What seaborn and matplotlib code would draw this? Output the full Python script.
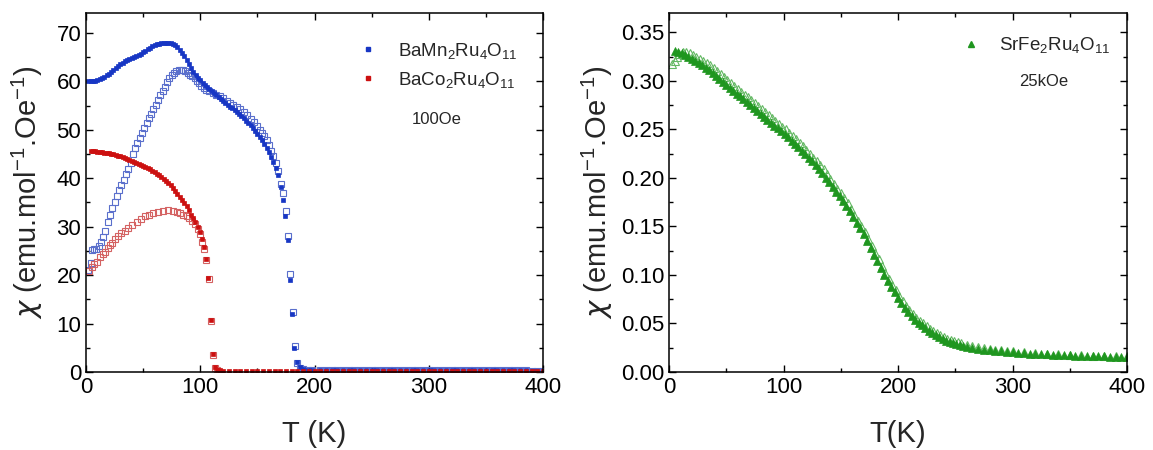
import seaborn as sns
import matplotlib
matplotlib.use("Agg")
from matplotlib import pyplot as plt
from matplotlib.lines import Line2D
from matplotlib.ticker import MultipleLocator, FormatStrFormatter

# ---- left panel: BaMn2Ru4O11 / BaCo2Ru4O11, 100 Oe ----
T_tail = [205, 210, 215, 220, 225, 230, 235, 240, 245, 250, 255, 260, 265, 270, 275, 280,
          285, 290, 295, 300, 305, 310, 315, 320, 325, 330, 335, 340, 345, 350, 355, 360,
          365, 370, 375, 380, 385, 390, 395, 400]
mn_tail = [0.42, 0.41, 0.40, 0.40, 0.39, 0.39, 0.38, 0.38, 0.37, 0.37, 0.37, 0.36, 0.36, 0.36,
           0.35, 0.35, 0.35, 0.35, 0.34, 0.34, 0.34, 0.34, 0.33, 0.33, 0.33, 0.33, 0.33, 0.32,
           0.32, 0.32, 0.32, 0.32, 0.31, 0.31, 0.31, 0.31, 0.31, 0.30, 0.30, 0.30]
co_tail = [0.24, 0.24, 0.23, 0.23, 0.23, 0.22, 0.22, 0.22, 0.22, 0.21, 0.21, 0.21, 0.21, 0.21,
           0.20, 0.20, 0.20, 0.20, 0.20, 0.20, 0.19, 0.19, 0.19, 0.19, 0.19, 0.19, 0.19, 0.18,
           0.18, 0.18, 0.18, 0.18, 0.18, 0.18, 0.18, 0.17, 0.17, 0.17, 0.17, 0.17]

T_mn_fc = [2, 4, 6, 8, 10, 12, 14, 16, 18, 20, 22, 24, 26, 28, 30, 32, 34, 36, 38, 40, 42, 44,
           46, 48, 50, 52, 54, 56, 58, 60, 62, 64, 66, 68, 70, 72, 74, 76, 78, 80, 82, 84, 86,
           88, 90, 92, 94, 96, 98, 100, 102, 104, 106, 108, 110, 112, 114, 116, 118, 120, 122,
           124, 126, 128, 130, 132, 134, 136, 138, 140, 142, 144, 146, 148, 150, 152, 154, 156,
           158, 160, 162, 164, 166, 168, 170.5, 172.5, 174.5, 176.5, 178.5, 180.5, 182.3, 184.5,
           187, 190, 194, 198]
chi_mn_fc = [60.0, 60.0, 60.0, 60.1, 60.2, 60.4, 60.6, 60.9, 61.2, 61.5, 61.9, 62.3, 62.7, 63.1,
             63.5, 63.8, 64.1, 64.4, 64.6, 64.8, 65.0, 65.2, 65.4, 65.7, 66.0, 66.3, 66.6, 66.9,
             67.2, 67.4, 67.6, 67.8, 67.9, 68.0, 68.0, 68.0, 67.9, 67.7, 67.4, 67.0, 66.5, 65.9,
             65.2, 64.4, 63.6, 62.8, 62.0, 61.3, 60.7, 60.2, 59.7, 59.2, 58.8, 58.4, 58.0, 57.6,
             57.2, 56.8, 56.4, 56.0, 55.6, 55.2, 54.8, 54.4, 54.0, 53.6, 53.2, 52.8, 52.4, 51.9,
             51.4, 50.9, 50.3, 49.7, 49.1, 48.5, 47.8, 47.1, 46.3, 45.4, 44.4, 43.3, 42.1, 40.6,
             38.2, 35.6, 32.2, 27.3, 19.0, 12.0, 5.0, 2.1, 1.0, 0.7, 0.5, 0.45]

T_mn_zfc = [2, 4, 5, 7, 9, 11, 13, 15, 17, 19, 21, 23, 25, 27, 29, 31, 33, 35, 37, 39, 41, 43,
            45, 47, 49, 51, 53, 55, 57, 59, 61, 63, 65, 67, 69, 71, 73, 75, 77, 79, 81, 83, 85,
            87, 89, 91, 93, 95, 97, 99, 101, 103, 105, 108, 111, 114, 117, 120, 123, 126, 129,
            132, 135, 138, 141, 144, 147, 150, 152, 154, 156, 158, 160, 162, 164, 166, 168, 170.4,
            172.7, 174.8, 176.8, 178.6, 181, 182.5, 184.5, 187, 190, 194, 198]
chi_mn_zfc = [21.0, 22.5, 25.2, 25.3, 25.4, 26.0, 26.8, 27.8, 29.2, 30.9, 32.4, 33.8, 35.0, 36.3,
              37.6, 38.7, 39.6, 40.9, 41.8, 43.2, 45.0, 46.2, 47.3, 48.4, 49.4, 50.3, 51.4, 52.4,
              53.3, 54.2, 55.2, 56.1, 57.1, 58.0, 58.9, 59.8, 60.6, 61.3, 61.8, 62.2, 62.4, 62.4,
              62.3, 62.1, 61.8, 61.4, 61.0, 60.6, 60.1, 59.6, 59.0, 58.6, 58.3, 57.9, 57.5, 57.2,
              56.9, 56.5, 56.0, 55.6, 55.1, 54.6, 54.2, 53.6, 53.0, 52.3, 51.6, 50.7, 50.0, 49.4,
              48.7, 47.9, 46.8, 45.7, 44.5, 43.2, 41.5, 38.8, 36.9, 33.2, 28.1, 20.2, 12.3, 5.3,
              1.8, 0.9, 0.6, 0.5, 0.45]

T_co_fc = [4, 6, 8, 10, 12, 14, 16, 18, 20, 22, 24, 26, 28, 30, 32, 34, 36, 38, 40, 42, 44, 46,
           48, 50, 52, 54, 56, 58, 60, 62, 64, 66, 68, 70, 72, 74, 76, 78, 80, 82, 84, 86, 88,
           90, 92, 93.8, 95.6, 97.6, 99.6, 101.6, 103.4, 105.2, 107.2, 109.1, 111.1, 112.9, 115,
           117, 120, 125, 130, 135, 140, 145, 150, 155, 160, 165, 170, 175, 180, 185, 190, 195, 200]
chi_co_fc = [45.6, 45.6, 45.6, 45.5, 45.5, 45.4, 45.3, 45.2, 45.1, 45.0, 44.9, 44.8, 44.6, 44.5,
             44.3, 44.2, 44.0, 43.8, 43.6, 43.4, 43.2, 43.0, 42.8, 42.6, 42.4, 42.1, 41.8, 41.5,
             41.2, 40.9, 40.6, 40.2, 39.8, 39.4, 39.0, 38.5, 38.0, 37.4, 36.8, 36.2, 35.6, 34.9,
             34.2, 33.4, 32.5, 31.8, 31.0, 30.0, 29.0, 27.5, 25.7, 23.3, 19.5, 10.7, 3.7, 1.0,
             0.5, 0.35, 0.3, 0.3, 0.3, 0.28, 0.28, 0.27, 0.27, 0.26, 0.26, 0.26, 0.25, 0.25, 0.25,
             0.25, 0.25, 0.24, 0.24]

T_co_zfc = [2.6, 5, 7, 9.4, 12.3, 14.5, 16.6, 19, 21, 23, 25.4, 28, 31, 34, 37, 40, 44.3, 48,
            51.6, 55, 59, 63, 67.7, 72, 76.4, 80, 82.3, 85, 88, 90, 92.5, 95.4, 97.7, 99.8, 101.5,
            103.3, 105, 107.3, 109, 111, 113, 115]
chi_co_zfc = [20.9, 21.6, 22.2, 22.8, 23.7, 24.3, 24.8, 25.6, 26.2, 26.7, 27.4, 28.0, 28.6, 29.2,
              29.8, 30.4, 31.0, 31.6, 32.1, 32.5, 32.9, 33.1, 33.3, 33.4, 33.3, 33.1, 32.9, 32.5,
              32.1, 31.7, 31.2, 30.6, 29.5, 28.5, 26.9, 25.4, 23.1, 19.2, 10.5, 3.5, 0.9, 0.4]

# ---- right panel: SrFe2Ru4O11, 25 kOe ----
T_fe_fc = [5, 8, 11, 14, 17, 20, 23, 26, 29, 32, 35, 38, 41, 44, 47, 50, 53, 56, 59, 62, 65, 68,
           71, 74, 77, 80, 83, 86, 89, 92, 95, 98, 101, 104, 107, 110, 113, 116, 119, 122, 125,
           128, 131, 134, 137, 140, 143, 146, 149, 152, 155, 158, 161, 164, 167, 170, 173, 176,
           179, 182, 185, 188, 191, 194, 197, 200, 203, 206, 209, 212, 215, 218, 221, 224, 227,
           230, 233, 236, 239, 242, 245, 248, 251, 254, 257, 260, 265, 270, 275, 280, 285, 290,
           295, 300, 305, 310, 315, 320, 325, 330, 335, 340, 345, 350, 355, 360, 365, 370, 375,
           380, 385, 390, 395, 400]
chi_fe_fc = [0.331, 0.330, 0.329, 0.327, 0.325, 0.323, 0.321, 0.318, 0.316, 0.313, 0.311, 0.308,
             0.305, 0.302, 0.299, 0.296, 0.293, 0.290, 0.287, 0.284, 0.281, 0.278, 0.275, 0.272,
             0.269, 0.266, 0.263, 0.260, 0.257, 0.254, 0.251, 0.248, 0.245, 0.242, 0.238, 0.235,
             0.232, 0.228, 0.225, 0.221, 0.217, 0.213, 0.209, 0.205, 0.200, 0.196, 0.191, 0.186,
             0.181, 0.176, 0.171, 0.166, 0.160, 0.154, 0.148, 0.142, 0.135, 0.128, 0.121, 0.114,
             0.107, 0.100, 0.094, 0.088, 0.082, 0.076, 0.071, 0.066, 0.062, 0.058, 0.054, 0.051,
             0.048, 0.045, 0.042, 0.040, 0.038, 0.036, 0.034, 0.032, 0.031, 0.030, 0.029, 0.028,
             0.027, 0.026, 0.025, 0.024, 0.023, 0.0225, 0.022, 0.0215, 0.021, 0.0205, 0.020,
             0.0195, 0.019, 0.0187, 0.0184, 0.0181, 0.0178, 0.0176, 0.0174, 0.0172, 0.0170,
             0.0168, 0.0166, 0.0164, 0.0162, 0.0160, 0.0159, 0.0158, 0.0157, 0.0156]

T_fe_zfc = [3, 5, 7, 9, 12, 15, 18, 21, 24, 27, 30, 33, 36, 39, 42, 45, 48, 51, 54, 57, 60, 63,
            66, 69, 72, 75, 78, 81, 84, 87, 90, 93, 96, 99, 102, 105, 108, 111, 114, 117, 120,
            123, 126, 129, 132, 135, 138, 141, 144, 147, 150, 153, 156, 159, 162, 165, 168, 171,
            174, 177, 180, 183, 186, 189, 192, 195, 198, 201, 204, 207, 210, 213, 216, 219, 222,
            225, 228, 231, 234, 237, 240, 243, 246, 249, 252, 255, 260, 265, 270, 275, 280, 285,
            290, 295, 300, 310, 320, 330, 340, 350, 360, 370, 380, 390, 400]
chi_fe_zfc = [0.317, 0.321, 0.325, 0.328, 0.330, 0.330, 0.329, 0.327, 0.325, 0.323, 0.321, 0.318,
              0.316, 0.313, 0.310, 0.307, 0.304, 0.301, 0.298, 0.295, 0.292, 0.289, 0.286, 0.283,
              0.280, 0.277, 0.274, 0.271, 0.268, 0.265, 0.262, 0.259, 0.256, 0.253, 0.250, 0.246,
              0.243, 0.240, 0.236, 0.233, 0.229, 0.225, 0.221, 0.217, 0.213, 0.209, 0.204, 0.199,
              0.194, 0.189, 0.184, 0.179, 0.174, 0.168, 0.162, 0.156, 0.150, 0.144, 0.137, 0.130,
              0.123, 0.116, 0.109, 0.102, 0.096, 0.090, 0.084, 0.078, 0.073, 0.068, 0.064, 0.060,
              0.056, 0.053, 0.050, 0.047, 0.044, 0.042, 0.040, 0.038, 0.036, 0.034, 0.033, 0.032,
              0.031, 0.030, 0.028, 0.027, 0.026, 0.025, 0.024, 0.023, 0.0225, 0.022, 0.0215,
              0.0205, 0.020, 0.019, 0.0185, 0.018, 0.0175, 0.017, 0.0168, 0.0165, 0.016]

BLUE, BLUE_O = "#1736c4", "#5a6fcc"
RED, RED_O = "#cc1010", "#d46262"
GREEN, GREEN_O = "#1f961f", "#62b862"

sns.set_style("ticks")
plt.rcParams["font.family"] = ["Liberation Sans", "DejaVu Sans"]
plt.rcParams["mathtext.fontset"] = "custom"
plt.rcParams["mathtext.rm"] = "Liberation Sans"
plt.rcParams["mathtext.it"] = "DejaVu Sans:italic"
plt.rcParams["mathtext.default"] = "regular"

fig = plt.figure(figsize=(11.53, 4.5), dpi=100)
ax1 = fig.add_axes([86 / 1153, 78 / 450, 457 / 1153, 359 / 450])
ax2 = fig.add_axes([669 / 1153, 78 / 450, 458 / 1153, 359 / 450])


def pts(ax, x, y, col, marker, size, filled):
    if filled:
        sns.lineplot(x=x, y=y, ax=ax, linestyle="", marker=marker, markersize=size,
                     color=col, markeredgecolor=col, markeredgewidth=0.5,
                     estimator=None, sort=False, errorbar=None)
    else:
        sns.lineplot(x=x, y=y, ax=ax, linestyle="", marker=marker, markersize=size,
                     color=col, markerfacecolor="none", markeredgecolor=col,
                     markeredgewidth=0.8, estimator=None, sort=False, errorbar=None)


pts(ax1, T_mn_zfc + T_tail, chi_mn_zfc + mn_tail, BLUE_O, "s", 4.0, False)
pts(ax1, T_mn_fc + T_tail, chi_mn_fc + mn_tail, BLUE, "s", 3.4, True)
pts(ax1, T_co_zfc, chi_co_zfc, RED_O, "s", 4.0, False)
pts(ax1, T_co_fc + T_tail, chi_co_fc + co_tail, RED, "s", 3.4, True)

pts(ax2, T_fe_zfc, chi_fe_zfc, GREEN_O, "^", 5.6, False)
pts(ax2, T_fe_fc, chi_fe_fc, GREEN, "^", 5.6, True)

for ax in (ax1, ax2):
    ax.set_xlim(0, 400)
    ax.xaxis.set_major_locator(MultipleLocator(100))
    ax.xaxis.set_minor_locator(MultipleLocator(50))
    ax.tick_params(which="both", direction="in", top=True, right=True, width=1.0,
                   labelsize=16, colors="black")
    ax.tick_params(which="major", length=5)
    ax.tick_params(which="minor", length=3)
    for s in ax.spines.values():
        s.set_linewidth(1.1)
        s.set_color("black")

ax1.set_ylim(0, 74.1)
ax1.yaxis.set_major_locator(MultipleLocator(10))
ax1.yaxis.set_minor_locator(MultipleLocator(5))
ax2.set_ylim(0, 0.37)
ax2.yaxis.set_major_locator(MultipleLocator(0.05))
ax2.yaxis.set_minor_locator(MultipleLocator(0.025))
ax2.yaxis.set_major_formatter(FormatStrFormatter("%.2f"))

ylab = r"$\mathit{\chi}$ (emu.mol$^{-1}$.Oe$^{-1}$)"
ax1.set_xlabel("T (K)", fontsize=21, labelpad=16)
ax1.set_ylabel(ylab, fontsize=21, labelpad=8)
ax2.set_xlabel("T(K)", fontsize=21, labelpad=16)
ax2.set_ylabel(ylab, fontsize=21, labelpad=4)

h1 = [Line2D([], [], ls="", marker="s", ms=3.4, color=BLUE),
      Line2D([], [], ls="", marker="s", ms=3.4, color=RED)]
ax1.legend(h1, ["BaMn$_2$Ru$_4$O$_{11}$", "BaCo$_2$Ru$_4$O$_{11}$"], loc="upper left",
           bbox_to_anchor=(0.54, 0.97), frameon=False, fontsize=13.5, labelspacing=0.5,
           handletextpad=0.6)
ax1.text(0.713, 0.702, "100Oe", transform=ax1.transAxes, fontsize=12, va="center")

h2 = [Line2D([], [], ls="", marker="^", ms=4.0, color=GREEN)]
ax2.legend(h2, ["SrFe$_2$Ru$_4$O$_{11}$"], loc="upper left", bbox_to_anchor=(0.582, 0.985),
           frameon=False, fontsize=13.5, handletextpad=0.5)
ax2.text(0.765, 0.808, "25kOe", transform=ax2.transAxes, fontsize=12, va="center")

plt.savefig("out.png", dpi=100)
